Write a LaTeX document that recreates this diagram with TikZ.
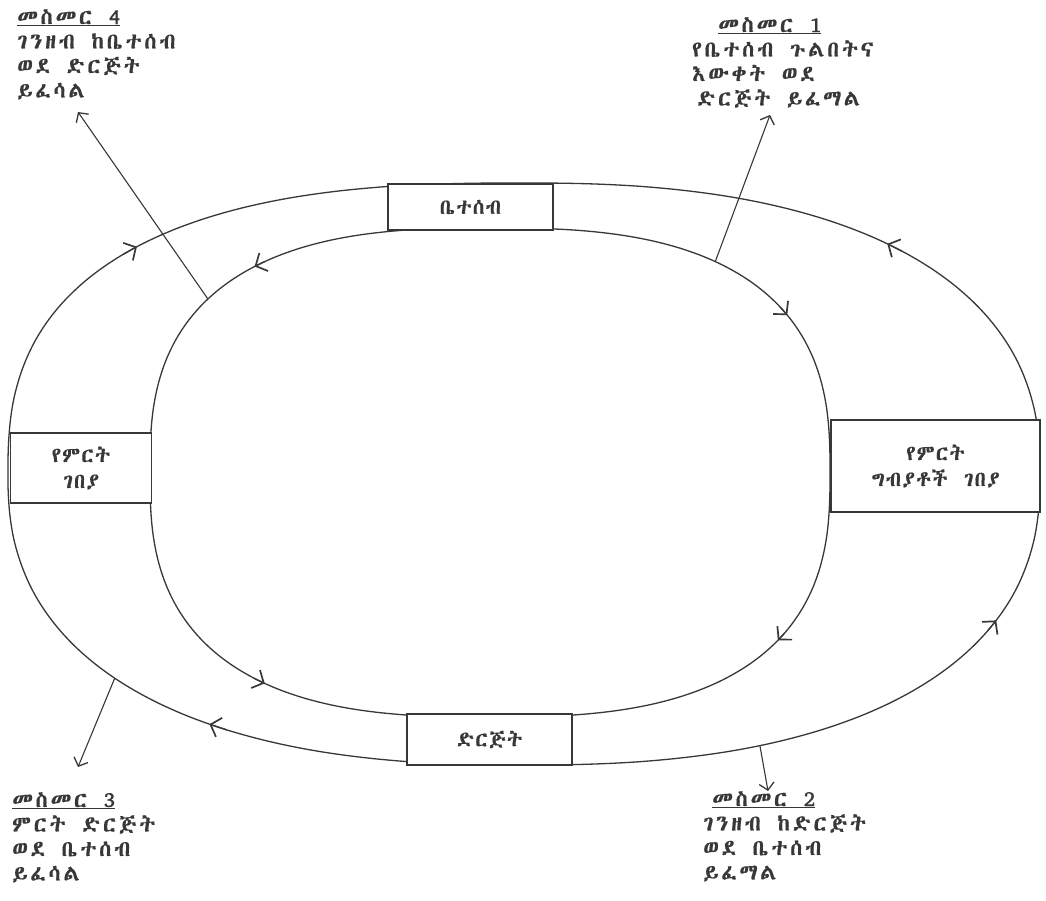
\documentclass[tikz,border=0pt]{standalone}
\usepackage{fontspec}
\usetikzlibrary{arrows.meta}
\newfontfamily\eth{Abyssinica SIL}[WordSpace=1.3, LetterSpace=13, FakeBold=0.5]
\newfontfamily\ethb{Abyssinica SIL}[WordSpace=1.5, LetterSpace=6, FakeBold=0.5]
\definecolor{ink}{HTML}{383838}
\tikzset{
  curve/.style={draw=ink, line width=1.3pt},
  chev/.style={curve, -{Straight Barb[length=9pt,width=20pt,line width=1.7pt]}},
  lead/.style={draw=ink, line width=1.1pt, -{Straight Barb[length=7pt,width=15pt,line width=1.3pt]}},
  boxnode/.style={draw=ink, line width=1.3pt, fill=white, inner sep=0pt, align=center, text=ink, font=\ethb\fontsize{21}{26}\selectfont},
  label/.style={anchor=north west, inner sep=0pt, align=left, text=ink, font=\eth\fontsize{22}{24.5}\selectfont}
}
\begin{document}
\begin{tikzpicture}[x=1pt, y=-1pt,
  declare function={
    op(\x)=((cos(\x)<0)&&(sin(\x)<0))?0.77:0.833;
    ox(\x)=524+516*sign(cos(\x))*abs(cos(\x))^(op(\x));
    oy(\x)=474+291*sign(sin(\x))*abs(sin(\x))^(op(\x));
    ix(\x)=490+340*sign(cos(\x))*abs(cos(\x))^0.741;
    iy(\x)=472.5+244.5*sign(sin(\x))*abs(sin(\x))^0.741;
  }]
\useasboundingbox[fill=white] (0,0) rectangle (1046,901);

% outer and inner loops
\draw[curve] plot[smooth cycle, domain=1:359, samples=180] ({ox(\x)},{oy(\x)});
\draw[curve] plot[smooth cycle, domain=1:359, samples=180] ({ix(\x)},{iy(\x)});

% flow arrowheads on the outer loop
\coordinate (oa1) at ({ox(224)},{oy(224)});     \coordinate (ob1) at ({ox(226.5)},{oy(226.5)});
\coordinate (oa2) at ({ox(313.5)},{oy(313.5)}); \coordinate (ob2) at ({ox(311)},{oy(311)});
\coordinate (oa3) at ({ox(28.5)},{oy(28.5)});   \coordinate (ob3) at ({ox(26)},{oy(26)});
\coordinate (oa4) at ({ox(121)},{oy(121)});     \coordinate (ob4) at ({ox(123.5)},{oy(123.5)});
\draw[chev] (oa1) -- (ob1);
\draw[chev] (oa2) -- (ob2);
\draw[chev] (oa3) -- (ob3);
\draw[chev] (oa4) -- (ob4);

% flow arrowheads on the inner loop
\coordinate (ia1) at ({ix(235)},{iy(235)});     \coordinate (ib1) at ({ix(232.5)},{iy(232.5)});
\coordinate (ia2) at ({ix(324)},{iy(324)});     \coordinate (ib2) at ({ix(326.5)},{iy(326.5)});
\coordinate (ia3) at ({ix(34.5)},{iy(34.5)});   \coordinate (ib3) at ({ix(37)},{iy(37)});
\coordinate (ia4) at ({ix(127.5)},{iy(127.5)}); \coordinate (ib4) at ({ix(125)},{iy(125)});
\draw[chev] (ia1) -- (ib1);
\draw[chev] (ia2) -- (ib2);
\draw[chev] (ia3) -- (ib3);
\draw[chev] (ia4) -- (ib4);

% boxes
\node[boxnode, minimum width=165pt, minimum height=46pt] (home) at (470.5,207) {ቤተሰብ};
\node[boxnode, minimum width=141pt, minimum height=70pt] (pmkt) at (81,468) {የምርት\\ገበያ};
\node[boxnode, minimum width=209pt, minimum height=92pt] (imkt) at (935.5,466) {የምርት\\ግብያቶች ገበያ};
\node[boxnode, minimum width=165pt, minimum height=51pt] (firm) at (489.5,739.5) {ድርጅት};

% labels
\node[label] (t4) at (17,9) {\underline{መስመር 4}\\ገንዘብ ከቤተሰብ\\ወደ ድርጅት\\ይፈሳል};
\node[label] (t1) at (692,17) {\hspace{26pt}\underline{መስመር 1}\\የቤተሰብ ጉልበትና\\እውቀት ወደ\\\hspace{5pt}ድርጅት ይፈማል};
\node[label] (t3) at (12,792) {\underline{መስመር 3}\\ምርት ድርጅት\\ወደ ቤተሰብ\\ይፈሳል};
\node[label] (t2) at (703,791) {\hspace{9pt}\underline{መስመር 2}\\ገንዘብ ከድርጅት\\ወደ ቤተሰብ\\ይፈማል};

% leader lines
\coordinate (s4) at ({ix(219)},{iy(219)});  \coordinate (e4) at (78,112);
\coordinate (s1) at ({ix(305)},{iy(305)});  \coordinate (e1) at (770,115);
\coordinate (s3) at ({ox(139.2)},{oy(139.2)}); \coordinate (e3) at (78,767);
\coordinate (s2) at ({ox(67)},{oy(67)});    \coordinate (e2) at (768,791);
\draw[lead] (s4) -- (e4);
\draw[lead] (s1) -- (e1);
\draw[lead] (s3) -- (e3);
\draw[lead] (s2) -- (e2);
\end{tikzpicture}
\end{document}
